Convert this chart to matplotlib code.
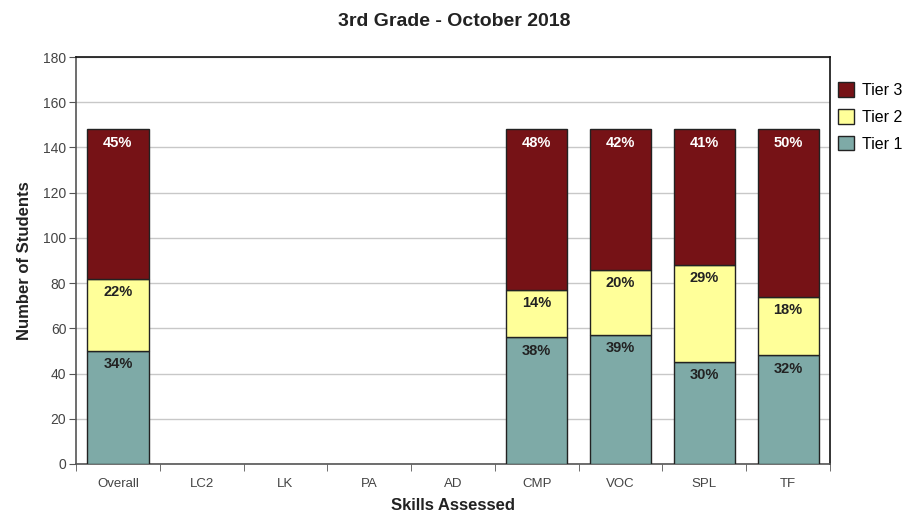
import numpy as np
import matplotlib
matplotlib.use("Agg")
import matplotlib.pyplot as plt

plt.rcParams['font.family'] = ['Liberation Sans', 'DejaVu Sans']

nan = np.nan
categories = ["Overall", "LC2", "LK", "PA", "AD", "CMP", "VOC", "SPL", "TF"]
tier1 = [50, nan, nan, nan, nan, 56, 57, 45, 48]
tier2 = [32, nan, nan, nan, nan, 21, 29, 43, 26]
tier3 = [66, nan, nan, nan, nan, 71, 62, 60, 74]
tier1_labels = ["34%", "", "", "", "", "38%", "39%", "30%", "32%"]
tier2_labels = ["22%", "", "", "", "", "14%", "20%", "29%", "18%"]
tier3_labels = ["45%", "", "", "", "", "48%", "42%", "41%", "50%"]

c1, c2, c3 = "#7eaaa7", "#ffff99", "#761216"

fig = plt.figure(figsize=(9.14, 5.29), dpi=100)
ax = fig.add_axes([0.0832, 0.1229, 0.8249, 0.7693])

x = np.arange(len(categories))
t1 = np.array(tier1, dtype=float)
t2 = np.array(tier2, dtype=float)
t3 = np.array(tier3, dtype=float)
w = 0.73
b1 = ax.bar(x, t1, w, color=c1, edgecolor="#222222", linewidth=1.0, label="Tier 1", zorder=3)
b2 = ax.bar(x, t2, w, bottom=t1, color=c2, edgecolor="#222222", linewidth=1.0, label="Tier 2", zorder=3)
b3 = ax.bar(x, t3, w, bottom=t1 + t2, color=c3, edgecolor="#222222", linewidth=1.0, label="Tier 3", zorder=3)

# percent labels near top of each segment
for bars, labels, col in [(b1, tier1_labels, "#222222"),
                          (b2, tier2_labels, "#222222"),
                          (b3, tier3_labels, "white")]:
    for rect, lab in zip(bars, labels):
        if not lab:
            continue
        top = rect.get_y() + rect.get_height()
        ax.annotate(lab, (rect.get_x() + rect.get_width() / 2, top), xytext=(0, -4.5),
                    textcoords="offset points", ha="center", va="top",
                    fontsize=10.5, fontweight="bold", color=col, zorder=4)

ax.set_xlim(-0.5, len(categories) - 0.5)
ax.set_ylim(0, 180)
ax.set_yticks(np.arange(0, 181, 20))
ax.yaxis.grid(True, color="#c8c8c8", linewidth=1.0, zorder=0)
ax.set_xticks(x)
ax.set_xticklabels(categories)
ax.set_xticks(np.arange(-0.5, len(categories), 1), minor=True)
ax.tick_params(axis="x", which="major", length=0, pad=10, labelsize=9.5, labelcolor="#444444")
ax.tick_params(axis="x", which="minor", length=5, color="#555555")
ax.tick_params(axis="y", length=5, color="#555555", labelsize=10, labelcolor="#444444", pad=2)

for s in ["top", "right"]:
    ax.spines[s].set_color("#111111")
    ax.spines[s].set_linewidth(1.2)
for s in ["left", "bottom"]:
    ax.spines[s].set_color("#555555")
    ax.spines[s].set_linewidth(1.2)

ax.set_xlabel("Skills Assessed", fontsize=12, fontweight="bold", color="#222222", labelpad=6)
ax.set_ylabel("Number of Students", fontsize=12, fontweight="bold", color="#222222", labelpad=8)
fig.suptitle("3rd Grade - October 2018", x=0.497, y=0.975, fontsize=14, fontweight="bold", color="#222222")

handles = [b3, b2, b1]
leg = ax.legend(handles, [h.get_label() for h in handles], loc="upper left",
                bbox_to_anchor=(0.996, 0.965), frameon=False, fontsize=11.5,
                handlelength=1.0, handleheight=1.0, handletextpad=0.5, labelspacing=0.7,
                borderaxespad=0.3)

fig.savefig("out.png", dpi=100)
